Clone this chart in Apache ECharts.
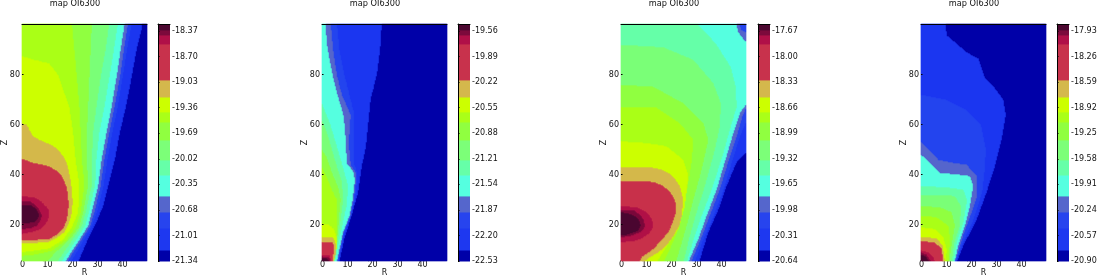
<!DOCTYPE html>
<html><head><meta charset="utf-8">
<style>html,body{margin:0;padding:0;background:#fff}#c{width:1097px;height:278px}</style>
<script src="https://cdn.jsdelivr.net/npm/echarts@6/dist/echarts.min.js"></script>
</head><body><div id="c"></div>
<script>
// Cell grid of every map: R and Z axis categories (0.4 units per cell)
const rValues = Array.from({length:125},(_,i)=>+(i*0.4).toFixed(1));
const zValues = Array.from({length:237},(_,i)=>+(5.6+i*0.4).toFixed(1));
const panelTitle = 'map OI6300';

// Colour bands (low to high) and where each band ends, measured from the foot of the colour scale
const bandColors = ['#0000a8','#1e38f0','#2744ee','#5566cc','#55ffe0','#66ffa8','#7cff78','#90ff40','#aaff18','#ccff00','#d4b84c','#c8324c','#b01048','#7c0a3c','#4c0830'];
const bandTops = [0.142,0.426,0.633,0.84,1.11,1.305,1.563,1.795,1.925,2.118,2.338,2.803,2.919,2.984,3.06];

// Colour bar tick labels of each panel
const ticks1 = [-18.37,-18.70,-19.03,-19.36,-19.69,-20.02,-20.35,-20.68,-21.01,-21.34];
const ticks2 = [-19.56,-19.89,-20.22,-20.55,-20.88,-21.21,-21.54,-21.87,-22.20,-22.53];
const ticks3 = [-17.67,-18.00,-18.33,-18.66,-18.99,-19.32,-19.65,-19.98,-20.31,-20.64];
const ticks4 = [-17.93,-18.26,-18.59,-18.92,-19.25,-19.58,-19.91,-20.24,-20.57,-20.90];

const p1c1 = [[48,100],[47.9,98],[45.9,90],[43.9,79],[41.6,67],[39.2,57],[37.2,46],[34.5,35.5],[32.5,27.5],[29.2,19.6],[26.5,14.3],[22.5,6]];
const p1c2 = [[44,100],[42,90],[40.3,79],[38.3,67],[36.2,57],[34.2,46],[32.6,35.5],[30,25],[28,19.6],[25,14.3],[19.5,6]];
const p1c3 = [[42.5,100],[40.8,90],[39.2,79],[37,67],[35,57],[33,46],[31.5,35.5],[29,25],[27.3,19.6],[24,14.3],[18,6]];
const p1c4 = [[41.2,100],[39.5,90],[37.9,79],[35.9,67],[33.9,57],[31.9,46],[30.5,35.5],[27.9,25],[26.5,19.6],[23.2,14.3],[17.2,6]];
const p1c5 = [[38.5,100],[36.8,90],[35,79],[33,67],[31,57],[29.8,46],[29.3,36],[26.8,25],[25.3,19.6],[22,14.3],[15.8,6]];
const p1c6 = [[35,100],[33.5,90],[31.5,79],[29.8,67],[28.5,57],[28,46],[28,36],[25.5,25],[24,19.6],[20.5,14.3],[14,6]];
const p1c7 = [[28,100],[27.5,90],[27,79],[26.5,67],[26,57],[26,46],[26.5,36],[24.5,25],[22.8,19],[19,14],[13,8.5],[10,6]];
const p1c8 = [[20,100],[21,90],[22,79],[23,67],[23.5,57],[24,46],[25,36],[23.5,25],[21.5,19],[18,14],[12,9.5],[5,8],[0,7.5]];
const p1c9 = [[0,87.5],[5,86],[11,84.5],[14.5,80],[19,67],[20.5,57],[21.5,46],[23,36],[22.5,25],[20,19],[16.5,14],[11,10.5],[4,9.5],[0,9]];
const p1c10 = [[0,60.5],[2,60],[3,58],[4.5,55.5],[7,54],[10,52.7],[12.5,51.6],[14.5,50],[16.5,47.5],[18,44.8],[19.3,39],[20,34],[20.3,29],[20,25],[18.8,20.5],[17,17],[14,14.8],[11,13.2],[5,12.7],[0,12.5]];
const p1c11 = [[0,46.4],[4.5,44.8],[11,43.4],[14,41.5],[16,39.5],[17.8,35.5],[18.5,31.5],[18.7,28],[18.5,25],[17.8,21.5],[16.5,18.3],[14,16],[11,14.3],[5,13.9],[0,13.7]];
const p1c12 = [[0,31.5],[5,30.9],[7.5,29.5],[9,28],[10.5,26.5],[11,25],[10.5,22],[9,19.6],[7,18],[4.5,17.2],[0,16.3]];
const p1c13 = [[0,29.5],[3,29.5],[5.5,27.8],[7,26],[8,23.6],[7.3,21.5],[6,19.6],[4,18.8],[2,18.5],[0,18]];
const p1c14 = [[0,28],[4,27.6],[5.5,26.5],[6.5,25],[7,23.6],[6.2,22],[5,21],[0,20.5]];

const p2c1 = [[24,100],[23.3,90],[22,80],[19.5,70],[18.5,60],[17.6,51],[16,43.5],[14.5,33],[12,24],[9,14.5],[7,6]];
const p2c2 = [[6,100],[7,90],[9,80],[11,72],[13,64],[13,56],[13,50],[13,44],[14,41],[14,38],[13.2,30],[11.7,23.5],[9,17],[6.5,6]];
const p2c3 = [[3.5,100],[4.5,90],[6,80],[8,72],[11.5,64],[11,56],[11,50],[11.5,44],[13.5,41],[13.6,38],[12.7,30],[11.3,23.5],[8.7,17],[6.2,6]];
const p2c4 = [[1.6,100],[1.9,93],[3.2,85.5],[4.3,80],[6.1,72.5],[8.5,64.5],[9.2,59],[9.6,52.5],[10,44.5],[12.5,41.5],[13.2,38],[12.3,30],[11,23.5],[8.5,17],[5.9,6]];
const p2c5 = [[0,68.6],[3.2,60.7],[5.2,54],[7.9,45],[10.5,35.5],[9.9,27.5],[7.9,18.5],[5.2,6]];
const p2c6 = [[0,62],[2,57],[3.5,52],[5.5,45],[8,37],[8.5,30],[7.5,22],[7,18],[5,6]];
const p2c7 = [[0,50],[2,47],[4,41],[6.5,35],[7.5,30],[6.8,23],[6.5,18],[4.7,6]];
const p2c8 = [[0,43],[2,39],[4,34],[6,30],[6,24],[6,17],[4.5,6]];
const p2c9 = [[0,20.5],[3,20],[5,18],[6.2,14],[5.8,10],[4.8,6]];
const p2c10 = [[0,15],[4.5,15],[5.5,12.5],[5.5,8],[4.4,6]];
const p2c11 = [[0,13],[4.5,12.8],[5,10],[4.6,8],[4.2,6]];
const p2c12 = [[0,8],[3,7.8],[4,6]];
const p2c13 = [[0,7.3],[3,6.8],[3.5,6]];
const p2c14 = [[0,6.8],[2.5,6.3],[2.8,6]];

const p3c1 = [[52,100],[52,49],[50,48.7],[46.3,45],[42.3,35.5],[39,26],[35,17],[31.3,6]];
const p3c2 = [[52,100],[52,61],[50,61],[47.5,55],[45,47],[41,34],[37,23.5],[33,14.3],[29.5,6]];
const p3c3 = [[47.5,100],[48,98],[50,97],[52,96],[52,66],[50,66.5],[48.5,63],[46.5,56],[43.5,47],[39.5,34],[35.5,23.5],[32,14.3],[28,6]];
const p3c4 = [[46,100],[47,97],[50,93],[51,93],[51,68],[50,68],[47.6,64.6],[45,56.7],[42.3,47.5],[38.3,34],[34.3,23.5],[31,14.3],[27,6]];
const p3c5 = [[30,100],[38,92.5],[44,83],[46,75],[46.3,67],[43.6,58],[41,48.7],[36.3,34],[32.3,23.5],[29.6,15.7],[26.3,6]];
const p3c6 = [[0,92],[17,91],[29,86],[37,76.6],[40,68.6],[39.6,59.4],[37.6,50],[33.6,35.5],[30.3,25],[27.6,15.7],[25,6]];
const p3c7 = [[0,76],[13,75.2],[25,68.6],[33,60.6],[35,54],[32.3,42],[29,30],[26.3,19.6],[23.6,10.3],[22,6]];
const p3c8 = [[0,67],[14,67],[23.6,60.6],[29,54],[28.3,45],[26.3,33],[23.6,19.6],[19.6,10.3],[17,6]];
const p3c9 = [[0,53.4],[10.3,52.7],[18.3,51.4],[25,46],[27,39.5],[25.6,27.5],[23,18.3],[17.6,10.3],[14.3,6]];
const p3c10 = [[0,43],[13,42.8],[16.5,42],[19,40.8],[21.6,38.3],[23.6,35.5],[24.6,31.5],[24.7,27.5],[24.3,23.5],[23.3,19.6],[21,15.5],[18.3,11.7],[15,9],[11.6,7],[9,6]];
const p3c11 = [[0,37.5],[10.3,37.5],[14,36.8],[17,35.5],[19.8,33],[21.6,30],[22.2,27.5],[22,25],[20.8,21],[19,17],[16,13.5],[13,10.3],[8.3,7],[7.3,6]];
const p3c12 = [[0,27.5],[6.3,27],[9,25.8],[11,24.3],[12.5,22],[13,19.6],[12.3,17.8],[11,16.3],[8.5,14.6],[5.6,13.6],[0,13]];
const p3c13 = [[0,26],[5.6,25.6],[7.5,24],[9,22.3],[9.6,19.6],[9,18.3],[7.6,17],[3.6,15.4],[0,15]];
const p3c14 = [[0,25],[3.6,24.3],[5.5,23.5],[7,22.3],[8,19.6],[7.4,18.4],[6.3,17.3],[2.3,16],[0,15.8]];

const p4c1 = [[10,100],[10.3,95.8],[14.3,92.5],[18.3,89],[23,86.5],[25.6,79],[29.6,74.6],[33,70],[34,64],[32.3,54],[29.6,43.4],[26.3,33],[22.3,22],[17,11.7],[14.3,6]];
const p4c2 = [[0,72],[10,70],[18,66],[24,60],[26,50],[25.5,42],[24.5,33],[21,22],[16.3,12],[14,6]];
const p4c3 = [[0,53.4],[2.3,51],[7,46],[11.6,45],[18.3,44],[22.3,39.5],[22.5,31.5],[20.3,25],[17,16],[13.6,6]];
const p4c4 = [[0,48],[1.6,46.8],[5,43.4],[7.6,40.8],[15.6,40],[19.6,39.5],[21,35.5],[19.6,27.5],[17.6,19.6],[15,11.7],[13.4,6]];
const p4c5 = [[0,35.5],[10.3,35],[17,34],[18.5,30],[17,21],[14.3,13],[13,6]];
const p4c6 = [[0,32],[7.6,32],[13.6,31.5],[16,27.5],[15.6,19.6],[13.2,12.3],[12.3,6]];
const p4c7 = [[0,27.5],[7.6,27],[12.3,25],[13.6,19.6],[12.3,12.3],[11.3,6]];
const p4c8 = [[0,23.6],[6.3,23],[11,19.6],[11.6,14.3],[11,6]];
const p4c9 = [[0,19],[5.6,18.3],[9,15],[10.3,10.3],[10,6]];
const p4c10 = [[0,15.2],[6.3,14.6],[8.7,11.7],[9.6,6]];
const p4c11 = [[0,13.4],[5.6,13],[8.3,10.3],[9,6]];
const p4c12 = [[0,9.7],[3,9],[5,7],[5.6,6]];
const p4c13 = [[0,9],[2.3,8],[4.3,6]];
const p4c14 = [[0,8],[2,7.2],[3.4,6]];

(function(){
const contours = [
 [p1c1,p1c2,p1c3,p1c4,p1c5,p1c6,p1c7,p1c8,p1c9,p1c10,p1c11,p1c12,p1c13,p1c14],
 [p2c1,p2c2,p2c3,p2c4,p2c5,p2c6,p2c7,p2c8,p2c9,p2c10,p2c11,p2c12,p2c13,p2c14],
 [p3c1,p3c2,p3c3,p3c4,p3c5,p3c6,p3c7,p3c8,p3c9,p3c10,p3c11,p3c12,p3c13,p3c14],
 [p4c1,p4c2,p4c3,p4c4,p4c5,p4c6,p4c7,p4c8,p4c9,p4c10,p4c11,p4c12,p4c13,p4c14]
];
const tickSets = [ticks1,ticks2,ticks3,ticks4];

function closeContour(c){
  const pts = c.map(p=>[p[0], p[1]>=100?101:(p[1]<=6?5:p[1])]);
  return [...pts,[-1,pts[pts.length-1][1]],[-1,pts[0][1]]];
}
function inside(poly,x,y){
  let hit=false;
  for(let i=0,j=poly.length-1;i<poly.length;j=i++){
    const a=poly[i],b=poly[j];
    if((a[1]>y)!==(b[1]>y) && x < (b[0]-a[0])*(y-a[1])/(b[1]-a[1])+a[0]) hit=!hit;
  }
  return hit;
}
function cells(list){
  const polys=list.map(closeContour), out=[];
  zValues.forEach((z,zi)=>rValues.forEach((r,ri)=>{
    let band=0;
    polys.forEach((p,k)=>{ if(inside(p,r+0.2,z)) band=k+1; });
    out.push([ri,zi,band]);
  }));
  return out;
}

// Layout of the panels
const mapLeft=[22,322,621,921], mapWidth=125;
const barLeft=[158,458,758,1057], barWidth=12, plotTop=24, plotH=237;
const titleX=[75,375,674,974];
const font='"DejaVu Sans"', ink='#111', fs=8;
const isTick=(v,step)=>{const n=+v;return Number.isInteger(n)&&n%step===0&&n<100;};

const grid=[],xAxis=[],yAxis=[],series=[],title=[];
for(let p=0;p<4;p++){
  grid.push({left:mapLeft[p],top:plotTop,width:mapWidth,height:plotH,containLabel:false,outerBoundsMode:'none'});
  grid.push({left:barLeft[p],top:plotTop,width:barWidth,height:plotH,containLabel:false,outerBoundsMode:'none'});
  title.push({text:panelTitle,left:titleX[p],top:0,textAlign:'center',padding:0,
    textStyle:{fontFamily:font,fontSize:8.2,fontWeight:'normal',color:ink}});
}
for(let p=0;p<4;p++){
  const g=p*2;
  const xi=xAxis.length, yi=yAxis.length;
  xAxis.push({type:'category',gridIndex:g,data:rValues.map(String),name:'R',nameLocation:'middle',nameGap:8,nameMoveOverlap:false,
    nameTextStyle:{fontFamily:font,fontSize:fs,color:ink},
    axisLine:{show:false},axisTick:{show:false},splitLine:{show:false},
    axisLabel:{interval:(i,v)=>isTick(v,10),margin:0,fontFamily:font,fontSize:fs,color:ink,hideOverlap:false}});
  xAxis.push({type:'value',gridIndex:g,position:'top',min:0,max:1,z:5,
    axisLine:{show:true,onZero:false,lineStyle:{color:'#000',width:1}},axisTick:{show:false},axisLabel:{show:false},splitLine:{show:false}});
  yAxis.push({type:'category',gridIndex:g,data:zValues.map(String),name:'Z',nameLocation:'middle',nameGap:13,nameMoveOverlap:false,
    nameTextStyle:{fontFamily:font,fontSize:fs,color:ink},z:5,
    axisLine:{show:false},axisTick:{show:true,inside:true,length:1.5,alignWithLabel:true,interval:(i,v)=>isTick(v,20),lineStyle:{color:'#000'}},splitLine:{show:false},
    axisLabel:{interval:(i,v)=>isTick(v,20),margin:2,fontFamily:font,fontSize:fs,color:ink}});
  series.push({type:'heatmap',xAxisIndex:xi,yAxisIndex:yi,data:cells(contours[p]),progressive:0,silent:true,emphasis:{disabled:true}});
}
for(let p=0;p<4;p++){
  const g=p*2+1, t=tickSets[p];
  const lo=t[t.length-1], hi=+(lo+3.06).toFixed(2);
  const xi=xAxis.length, yi=yAxis.length;
  xAxis.push({type:'value',gridIndex:g,position:'top',min:0,max:1,z:5,
    axisLine:{show:true,onZero:false,lineStyle:{color:'#000',width:1}},axisTick:{show:false},axisLabel:{show:false},splitLine:{show:false}});
  yAxis.push({type:'value',gridIndex:g,position:'right',min:lo,max:hi,z:5,
    axisLine:{show:false},splitLine:{show:false},
    axisTick:{show:true,length:1.5,customValues:t,lineStyle:{color:'#000'}},
    axisLabel:{customValues:t,margin:2,fontFamily:font,fontSize:fs,color:ink,showMinLabel:true,showMaxLabel:true,hideOverlap:false,formatter:v=>(+v).toFixed(2)}});
  yAxis.push({type:'value',gridIndex:g,position:'left',min:lo,max:hi,z:5,
    axisLine:{show:true,onZero:false,lineStyle:{color:'#000',width:1}},axisTick:{show:false},axisLabel:{show:false},splitLine:{show:false}});
  series.push({type:'custom',xAxisIndex:xi,yAxisIndex:yi,silent:true,
    data:bandTops.map((b,i)=>[i?lo+bandTops[i-1]:lo,lo+b,i]),
    encode:{y:[0,1]},
    renderItem:(params,api)=>{
      const a=api.coord([0,api.value(1)]), b=api.coord([1,api.value(0)]);
      return {type:'rect',shape:{x:a[0],y:a[1],width:b[0]-a[0],height:b[1]-a[1]+0.5},style:{fill:bandColors[api.value(2)]}};
    }});
}

const chart=echarts.init(document.getElementById('c'),null,{renderer:'canvas'});
chart.setOption({animation:false,backgroundColor:'#fff',title,grid,xAxis,yAxis,series,tooltip:{show:false},
  visualMap:{type:'piecewise',show:false,dimension:2,seriesIndex:[0,1,2,3],
    pieces:bandColors.map((c,i)=>({value:i,color:c}))}});
})();
</script></body></html>
